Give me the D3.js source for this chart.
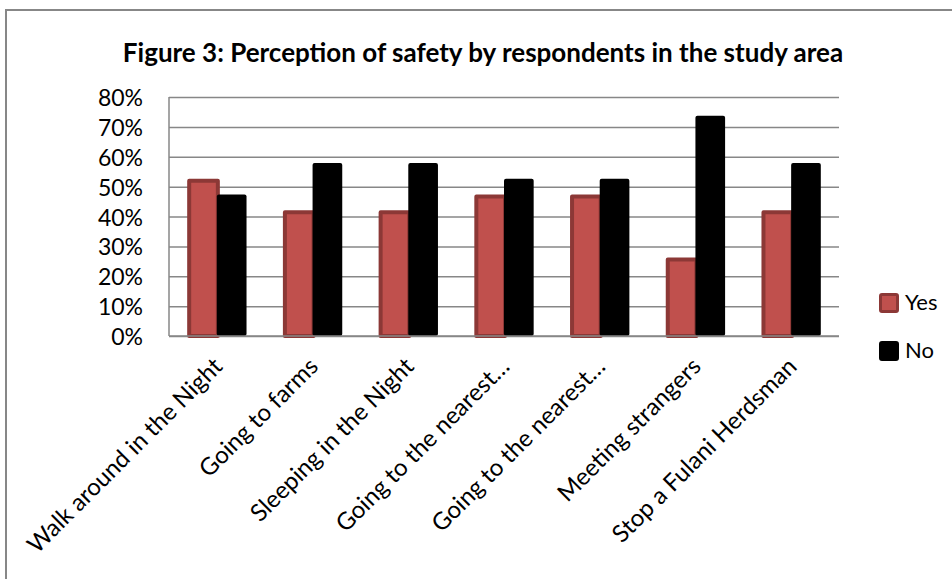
<!DOCTYPE html>
<html lang="en">
<head>
<meta charset="utf-8">
<title>Figure 3</title>
<script src="https://d3js.org/d3.v7.min.js"></script>
<style>
  body { margin: 0; background: #fff; }
  svg text { font-family: Lato, "Open Sans", sans-serif; fill: #000; }
  .grid line { stroke: #878787; stroke-width: 1.5px; }
  .grid path { display: none; }
</style>
</head>
<body>
<div class="chart"></div>
<script>
// data
var categories = ["Walk around in the Night", "Going to farms", "Sleeping in the Night",
                  "Going to the nearest\u2026", "Going to the nearest\u2026", "Meeting strangers",
                  "Stop a Fulani Herdsman"];
var yesValues = [0.526, 0.421, 0.421, 0.474, 0.474, 0.263, 0.421];
var noValues  = [0.474, 0.579, 0.579, 0.526, 0.526, 0.737, 0.579];
var seriesNames = ["Yes", "No"];
var yTicks = [0, 0.1, 0.2, 0.3, 0.4, 0.5, 0.6, 0.7, 0.8];

var width = 952, height = 579;
var plot = {left: 169, top: 97, right: 839, bottom: 336};

var svg = d3.select(".chart").append("svg")
    .attr("width", width)
    .attr("height", height);

// chart frame
svg.append("rect")
    .attr("x", 6).attr("y", 10)
    .attr("width", 960).attr("height", 600)
    .attr("fill", "#fff")
    .attr("stroke", "#878787")
    .attr("stroke-width", 2);

svg.append("text")
    .attr("x", 483).attr("y", 62)
    .attr("text-anchor", "middle")
    .style("font-size", "26px")
    .style("font-weight", "bold")
    .text("Figure 3: Perception of safety by respondents in the study area");

var x = d3.scaleBand()
    .domain(d3.range(categories.length))
    .range([plot.left, plot.right])
    .paddingInner(0.38)
    .paddingOuter(0.19);

var y = d3.scaleLinear()
    .domain([0, 0.8])
    .range([plot.bottom, plot.top]);

// gridlines
svg.append("g")
    .attr("class", "grid")
    .attr("transform", "translate(" + plot.left + ",0)")
    .call(d3.axisLeft(y).tickValues(yTicks).tickSize(-(plot.right - plot.left)).tickFormat(""));

// left axis line
svg.append("line")
    .attr("x1", plot.left).attr("x2", plot.left)
    .attr("y1", plot.top).attr("y2", plot.bottom)
    .attr("stroke", "#878787").attr("stroke-width", 1.5);

// y labels
svg.selectAll(".ylab")
    .data(yTicks)
    .enter().append("text")
    .attr("class", "ylab")
    .attr("x", 143)
    .attr("y", function(d) { return y(d) + 9; })
    .attr("text-anchor", "end")
    .style("font-size", "23px")
    .text(function(d) { return d3.format(".0%")(d); });

var barW = x.bandwidth() / 2;

// Yes bars
svg.selectAll(".yes")
    .data(yesValues)
    .enter().append("rect")
    .attr("class", "yes")
    .attr("x", function(d, i) { return x(i) + 2; })
    .attr("y", function(d) { return y(d) + 2; })
    .attr("width", barW - 1)
    .attr("height", function(d) { return plot.bottom - y(d) - 2; })
    .attr("fill", "#C0504D")
    .attr("stroke", "#8C3836")
    .attr("stroke-width", 4)
    .attr("stroke-linejoin", "round");

// No bars
svg.selectAll(".no")
    .data(noValues)
    .enter().append("rect")
    .attr("class", "no")
    .attr("x", function(d, i) { return x(i) + barW; })
    .attr("y", function(d) { return y(d); })
    .attr("width", barW)
    .attr("height", function(d) { return plot.bottom - y(d); })
    .attr("rx", 2)
    .attr("fill", "#000");

// bottom axis line
svg.append("line")
    .attr("x1", plot.left).attr("x2", plot.right)
    .attr("y1", plot.bottom).attr("y2", plot.bottom)
    .attr("stroke", "#878787").attr("stroke-width", 1.5);

// category labels
svg.selectAll(".xlab")
    .data(categories)
    .enter().append("text")
    .attr("class", "xlab")
    .attr("text-anchor", "end")
    .attr("transform", function(d, i) {
        var cx = x(i) + x.bandwidth() / 2 + 7;
        return "translate(" + cx + "," + (plot.bottom + 32) + ") rotate(-45)";
    })
    .style("font-size", "24px")
    .text(function(d) { return d; });

// legend
var legend = svg.selectAll(".legend")
    .data(seriesNames)
    .enter().append("g")
    .attr("class", "legend")
    .attr("transform", function(d, i) { return "translate(879," + (293 + i * 48) + ")"; });

legend.append("rect")
    .attr("x", 1.5).attr("y", 1.5)
    .attr("width", 17).attr("height", 17)
    .attr("rx", 1.5)
    .attr("fill", function(d, i) { return i === 0 ? "#C0504D" : "#000"; })
    .attr("stroke", function(d, i) { return i === 0 ? "#8C3836" : "#000"; })
    .attr("stroke-width", 3);

legend.append("text")
    .attr("x", 26).attr("y", 17)
    .style("font-size", "22px")
    .text(function(d) { return d; });
</script>
</body>
</html>
